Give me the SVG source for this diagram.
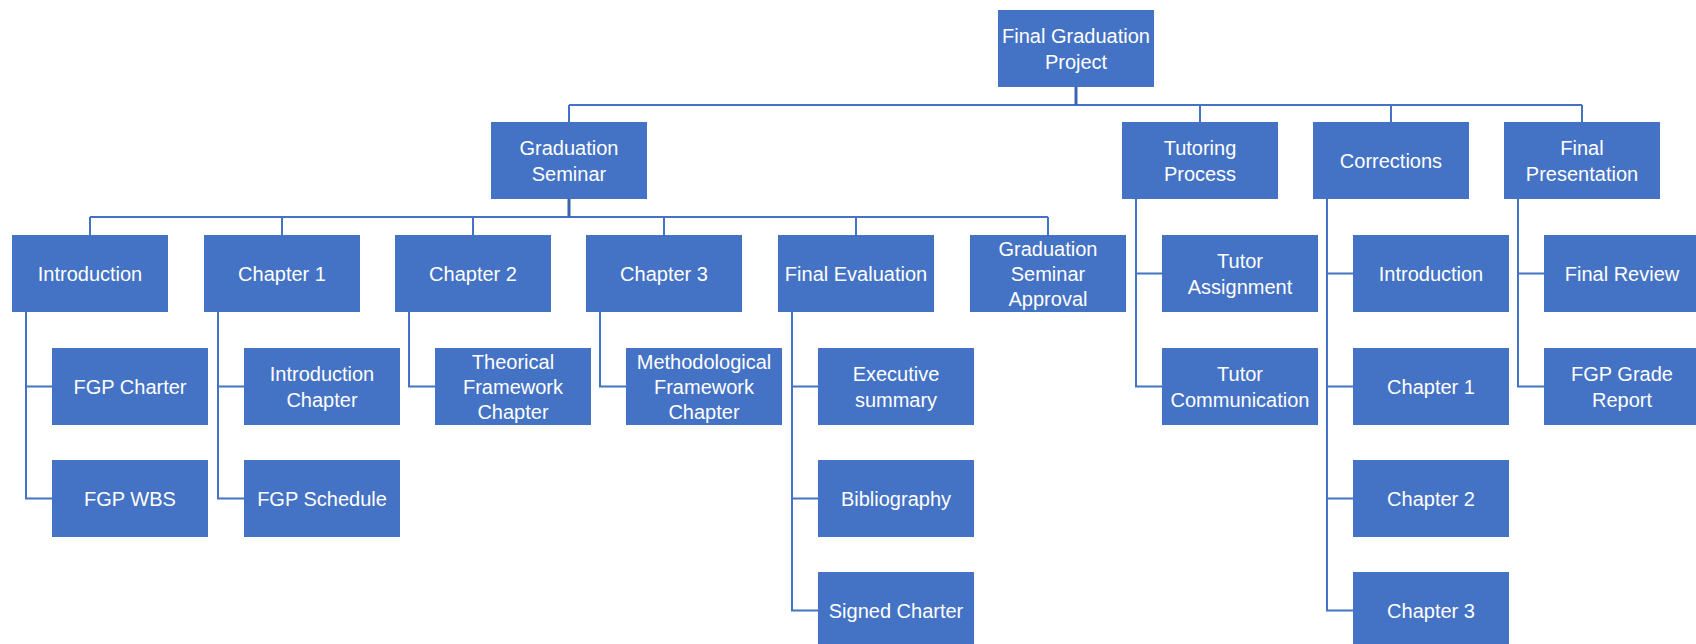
<svg xmlns="http://www.w3.org/2000/svg" width="1696" height="644" viewBox="0 0 1696 644">
<style>
.box{fill:#4472C4;}
.lbl{font-family:"Liberation Sans",Arial,sans-serif;font-size:20px;fill:#FFFFFF;text-anchor:middle;}
.ln{fill:none;stroke:#4472C4;stroke-width:2;}
.stub{fill:none;stroke:#3A64B0;stroke-width:3;}
</style>
<rect width="1696" height="644" fill="#FFFFFF"/>
<g id="connectors">
<path class="ln" d="M569 105H1582M569 105V122M1200 105V122M1391 105V122M1582 105V122"/>
<path class="stub" d="M1076 87V105"/>
<path class="ln" d="M90 217H1048M90 217V235M282 217V235M473 217V235M664 217V235M856 217V235M1048 217V235"/>
<path class="stub" d="M569 199V217"/>
<path class="ln" d="M26 312V498.5H52M26 386.5H52"/>
<path class="ln" d="M218 312V498.5H244M218 386.5H244"/>
<path class="ln" d="M409 312V386.5H435"/>
<path class="ln" d="M600 312V386.5H626"/>
<path class="ln" d="M792 312V610.5H818M792 386.5H818M792 498.5H818"/>
<path class="ln" d="M1136 199V386.5H1162M1136 273.5H1162"/>
<path class="ln" d="M1327 199V610.5H1353M1327 273.5H1353M1327 386.5H1353M1327 498.5H1353"/>
<path class="ln" d="M1518 199V386.5H1544M1518 273.5H1544"/>
</g>
<g id="n-fgp"><rect class="box" x="998" y="10" width="156" height="77"/><text class="lbl" x="1076" y="42.5">Final Graduation</text><text class="lbl" x="1076" y="68.5">Project</text></g>
<g id="n-gs"><rect class="box" x="491" y="122" width="156" height="77"/><text class="lbl" x="569" y="154.5">Graduation</text><text class="lbl" x="569" y="180.5">Seminar</text></g>
<g id="n-tp"><rect class="box" x="1122" y="122" width="156" height="77"/><text class="lbl" x="1200" y="154.5">Tutoring</text><text class="lbl" x="1200" y="180.5">Process</text></g>
<g id="n-corr"><rect class="box" x="1313" y="122" width="156" height="77"/><text class="lbl" x="1391" y="167.5">Corrections</text></g>
<g id="n-fp"><rect class="box" x="1504" y="122" width="156" height="77"/><text class="lbl" x="1582" y="154.5">Final</text><text class="lbl" x="1582" y="180.5">Presentation</text></g>
<g id="n-intro"><rect class="box" x="12" y="235" width="156" height="77"/><text class="lbl" x="90" y="280.5">Introduction</text></g>
<g id="n-ch1"><rect class="box" x="204" y="235" width="156" height="77"/><text class="lbl" x="282" y="280.5">Chapter 1</text></g>
<g id="n-ch2"><rect class="box" x="395" y="235" width="156" height="77"/><text class="lbl" x="473" y="280.5">Chapter 2</text></g>
<g id="n-ch3"><rect class="box" x="586" y="235" width="156" height="77"/><text class="lbl" x="664" y="280.5">Chapter 3</text></g>
<g id="n-fe"><rect class="box" x="778" y="235" width="156" height="77"/><text class="lbl" x="856" y="280.5">Final Evaluation</text></g>
<g id="n-gsa"><rect class="box" x="970" y="235" width="156" height="77"/><text class="lbl" x="1048" y="255.5">Graduation</text><text class="lbl" x="1048" y="280.5">Seminar</text><text class="lbl" x="1048" y="305.5">Approval</text></g>
<g id="n-ta"><rect class="box" x="1162" y="235" width="156" height="77"/><text class="lbl" x="1240" y="267.5">Tutor</text><text class="lbl" x="1240" y="293.5">Assignment</text></g>
<g id="n-cintro"><rect class="box" x="1353" y="235" width="156" height="77"/><text class="lbl" x="1431" y="280.5">Introduction</text></g>
<g id="n-fr"><rect class="box" x="1544" y="235" width="156" height="77"/><text class="lbl" x="1622" y="280.5">Final Review</text></g>
<g id="n-fgpc"><rect class="box" x="52" y="348" width="156" height="77"/><text class="lbl" x="130" y="393.5">FGP Charter</text></g>
<g id="n-fgpw"><rect class="box" x="52" y="460" width="156" height="77"/><text class="lbl" x="130" y="505.5">FGP WBS</text></g>
<g id="n-ic"><rect class="box" x="244" y="348" width="156" height="77"/><text class="lbl" x="322" y="380.5">Introduction</text><text class="lbl" x="322" y="406.5">Chapter</text></g>
<g id="n-fgps"><rect class="box" x="244" y="460" width="156" height="77"/><text class="lbl" x="322" y="505.5">FGP Schedule</text></g>
<g id="n-tfc"><rect class="box" x="435" y="348" width="156" height="77"/><text class="lbl" x="513" y="368.5">Theorical</text><text class="lbl" x="513" y="393.5">Framework</text><text class="lbl" x="513" y="418.5">Chapter</text></g>
<g id="n-mfc"><rect class="box" x="626" y="348" width="156" height="77"/><text class="lbl" x="704" y="368.5">Methodological</text><text class="lbl" x="704" y="393.5">Framework</text><text class="lbl" x="704" y="418.5">Chapter</text></g>
<g id="n-es"><rect class="box" x="818" y="348" width="156" height="77"/><text class="lbl" x="896" y="380.5">Executive</text><text class="lbl" x="896" y="406.5">summary</text></g>
<g id="n-bib"><rect class="box" x="818" y="460" width="156" height="77"/><text class="lbl" x="896" y="505.5">Bibliography</text></g>
<g id="n-sc"><rect class="box" x="818" y="572" width="156" height="77"/><text class="lbl" x="896" y="617.5">Signed Charter</text></g>
<g id="n-tc"><rect class="box" x="1162" y="348" width="156" height="77"/><text class="lbl" x="1240" y="380.5">Tutor</text><text class="lbl" x="1240" y="406.5">Communication</text></g>
<g id="n-cch1"><rect class="box" x="1353" y="348" width="156" height="77"/><text class="lbl" x="1431" y="393.5">Chapter 1</text></g>
<g id="n-cch2"><rect class="box" x="1353" y="460" width="156" height="77"/><text class="lbl" x="1431" y="505.5">Chapter 2</text></g>
<g id="n-cch3"><rect class="box" x="1353" y="572" width="156" height="77"/><text class="lbl" x="1431" y="617.5">Chapter 3</text></g>
<g id="n-fgpg"><rect class="box" x="1544" y="348" width="156" height="77"/><text class="lbl" x="1622" y="380.5">FGP Grade</text><text class="lbl" x="1622" y="406.5">Report</text></g>
</svg>
